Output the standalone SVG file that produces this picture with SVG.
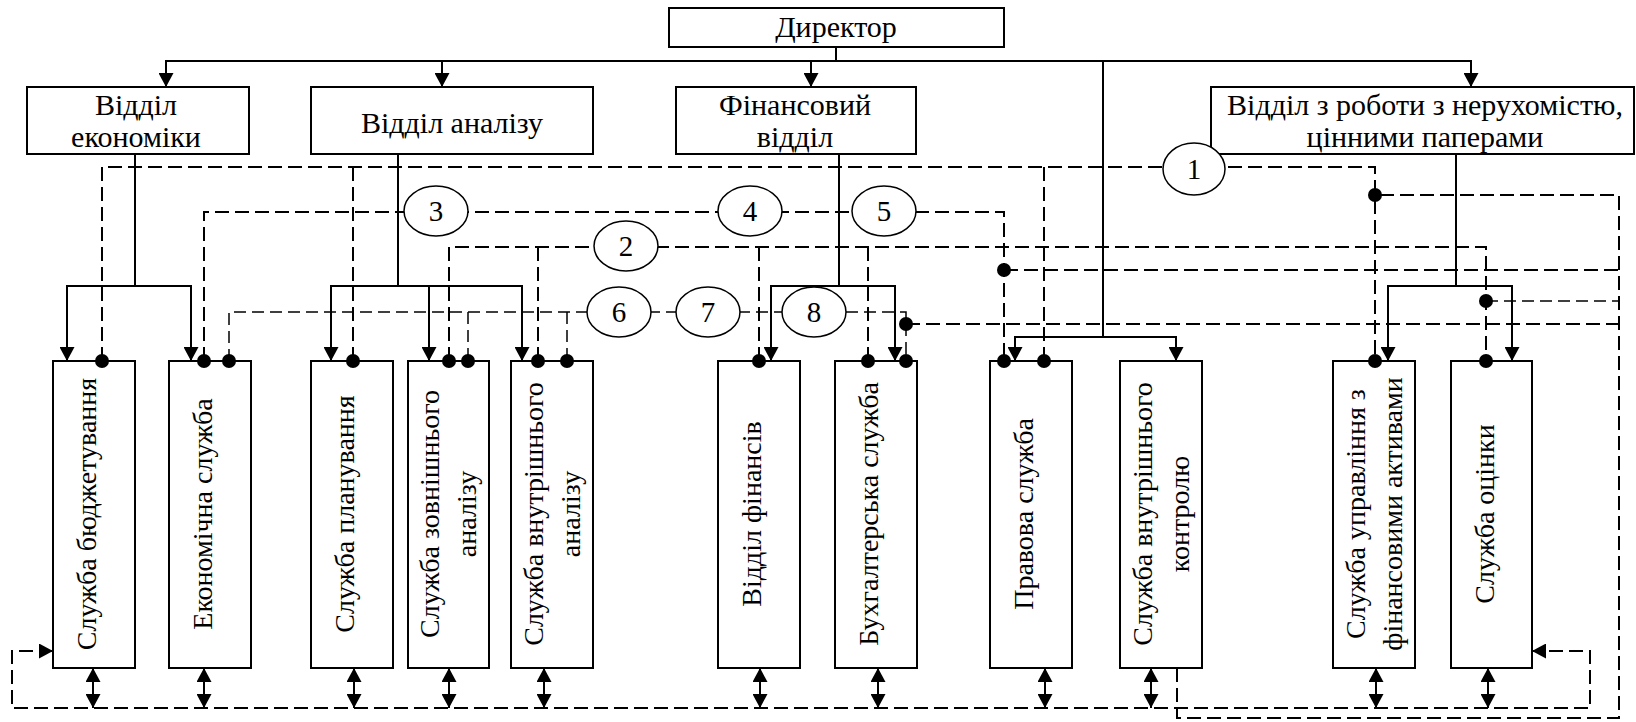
<svg xmlns="http://www.w3.org/2000/svg" width="1636" height="722" viewBox="0 0 1636 722">
<style>
.box{fill:#fff;stroke:#000;stroke-width:2}
.t{font-family:'Liberation Serif','Times New Roman',serif;font-size:30px;fill:#000;text-anchor:middle}
.n{font-family:'Liberation Serif','Times New Roman',serif;font-size:29px;fill:#000;text-anchor:middle}
.v{font-family:'Liberation Serif','Times New Roman',serif;font-size:28px;fill:#000;text-anchor:middle}
.s{fill:none;stroke:#000;stroke-width:2}
.d{fill:none;stroke:#000;stroke-width:2;stroke-dasharray:14 6}
.dt{fill:none;stroke:#000;stroke-width:1.5;stroke-dasharray:12 6}
.dot{fill:#000}
.el{fill:#fff;stroke:#000;stroke-width:1.5}
</style>
<defs>
<marker id="a" markerUnits="userSpaceOnUse" markerWidth="15" markerHeight="15" refX="14" refY="7.5" orient="auto-start-reverse">
<path d="M0,0 L14,7.5 L0,15 z" fill="#000"/>
</marker>
</defs>
<rect width="1636" height="722" fill="#fff"/>
<g id="director"><rect class="box" x="669" y="8" width="335" height="39"/><text class="t" x="836" y="37">Директор</text></g>
<g id="econ-dept"><rect class="box" x="27" y="87" width="222" height="67"/><text class="t" x="136" y="115">Відділ</text><text class="t" x="136" y="147">економіки</text></g>
<g id="analysis-dept"><rect class="box" x="311" y="87" width="282" height="67"/><text class="t" x="452" y="133">Відділ аналізу</text></g>
<g id="fin-dept"><rect class="box" x="676" y="87" width="240" height="67"/><text class="t" x="795" y="115">Фінансовий</text><text class="t" x="795" y="147">відділ</text></g>
<g id="realestate-dept"><rect class="box" x="1211" y="87" width="423" height="67"/><text class="t" x="1425" y="115">Відділ з роботи з нерухомістю,</text><text class="t" x="1425" y="147">цінними паперами</text></g>

<g id="budget"><rect class="box" x="53" y="361" width="82" height="307"/><text class="v" transform="translate(96,514) rotate(-90)">Служба бюджетування</text></g>
<g id="economic"><rect class="box" x="169" y="361" width="82" height="307"/><text class="v" transform="translate(212,514) rotate(-90)">Економічна служба</text></g>
<g id="planning"><rect class="box" x="311" y="361" width="82" height="307"/><text class="v" transform="translate(354,514) rotate(-90)">Служба планування</text></g>
<g id="external"><rect class="box" x="408" y="361" width="81" height="307"/><text class="v" transform="translate(439,514) rotate(-90)">Служба зовнішнього</text><text class="v" transform="translate(476,514) rotate(-90)">аналізу</text></g>
<g id="internal"><rect class="box" x="511" y="361" width="82" height="307"/><text class="v" transform="translate(543,514) rotate(-90)">Служба внутрішнього</text><text class="v" transform="translate(580,514) rotate(-90)">аналізу</text></g>
<g id="finance"><rect class="box" x="718" y="361" width="82" height="307"/><text class="v" transform="translate(761,514) rotate(-90)">Відділ фінансів</text></g>
<g id="accounting"><rect class="box" x="835" y="361" width="82" height="307"/><text class="v" transform="translate(878,514) rotate(-90)">Бухгалтерська служба</text></g>
<g id="legal"><rect class="box" x="990" y="361" width="82" height="307"/><text class="v" transform="translate(1033,514) rotate(-90)">Правова служба</text></g>
<g id="control"><rect class="box" x="1120" y="361" width="82" height="307"/><text class="v" transform="translate(1152,514) rotate(-90)">Служба внутрішнього</text><text class="v" transform="translate(1189,514) rotate(-90)">контролю</text></g>
<g id="assets"><rect class="box" x="1333" y="361" width="82" height="307"/><text class="v" transform="translate(1365,514) rotate(-90)">Служба управління з</text><text class="v" transform="translate(1402,514) rotate(-90)">фінансовими активами</text></g>
<g id="valuation"><rect class="box" x="1451" y="361" width="81" height="307"/><text class="v" transform="translate(1494,514) rotate(-90)">Служба оцінки</text></g>

<g id="connectors">
<path class="s" d="M836,47 V61"/>
<path class="s" d="M166,87 V61 H1471 V87" marker-start="url(#a)" marker-end="url(#a)"/>
<path class="s" d="M442,61 V87" marker-end="url(#a)"/>
<path class="s" d="M811,61 V87" marker-end="url(#a)"/>
<path class="s" d="M1103,61 V337"/>
<path class="s" d="M1015,361 V337 H1176 V361" marker-start="url(#a)" marker-end="url(#a)"/>
<path class="s" d="M135,154 V286"/>
<path class="s" d="M67,361 V286 H191 V361" marker-start="url(#a)" marker-end="url(#a)"/>
<path class="s" d="M398,154 V286"/>
<path class="s" d="M331,361 V286 H522 V361" marker-start="url(#a)" marker-end="url(#a)"/>
<path class="s" d="M429,286 V361" marker-end="url(#a)"/>
<path class="s" d="M839,154 V286"/>
<path class="s" d="M771,361 V286 H895 V361" marker-start="url(#a)" marker-end="url(#a)"/>
<path class="s" d="M1456,154 V286"/>
<path class="s" d="M1388,361 V286 H1512 V361" marker-start="url(#a)" marker-end="url(#a)"/>

<path class="d" d="M102,361 V167 H1375 V361"/>
<path class="d" d="M353,167 V361"/>
<path class="d" d="M1044,167 V361"/>
<path class="d" d="M204,361 V212 H1004 V361"/>
<path class="d" d="M449,361 V247 H1486 V361"/>
<path class="d" d="M538,247 V361"/>
<path class="d" d="M759,247 V361"/>
<path class="d" d="M868,247 V361"/>
<path class="dt" d="M229,361 V312 H906 V361"/>
<path class="dt" d="M468,312 V361"/>
<path class="dt" d="M567,312 V361"/>

<path class="d" d="M1177,668 V718 H1619 V195 H1375"/>
<path class="d" d="M1004,270 H1619"/>
<path class="dt" d="M1486,301 H1619"/>
<path class="d" d="M906,324 H1619"/>

<path class="d" d="M53,651 H12 V708 H1590 V651 H1532" marker-start="url(#a)" marker-end="url(#a)"/>
<path class="s" d="M93,668 V708" marker-start="url(#a)" marker-end="url(#a)"/>
<path class="s" d="M204,668 V708" marker-start="url(#a)" marker-end="url(#a)"/>
<path class="s" d="M354,668 V708" marker-start="url(#a)" marker-end="url(#a)"/>
<path class="s" d="M449,668 V708" marker-start="url(#a)" marker-end="url(#a)"/>
<path class="s" d="M544,668 V708" marker-start="url(#a)" marker-end="url(#a)"/>
<path class="s" d="M760,668 V708" marker-start="url(#a)" marker-end="url(#a)"/>
<path class="s" d="M878,668 V708" marker-start="url(#a)" marker-end="url(#a)"/>
<path class="s" d="M1045,668 V708" marker-start="url(#a)" marker-end="url(#a)"/>
<path class="s" d="M1151,668 V708" marker-start="url(#a)" marker-end="url(#a)"/>
<path class="s" d="M1376,668 V708" marker-start="url(#a)" marker-end="url(#a)"/>
<path class="s" d="M1488,668 V708" marker-start="url(#a)" marker-end="url(#a)"/>

<g class="dot">
<circle cx="102" cy="361" r="7"/><circle cx="204" cy="361" r="7"/><circle cx="229" cy="361" r="7"/>
<circle cx="353" cy="361" r="7"/><circle cx="449" cy="361" r="7"/><circle cx="468" cy="361" r="7"/>
<circle cx="538" cy="361" r="7"/><circle cx="567" cy="361" r="7"/><circle cx="759" cy="361" r="7"/>
<circle cx="868" cy="361" r="7"/><circle cx="906" cy="361" r="7"/><circle cx="1004" cy="361" r="7"/>
<circle cx="1044" cy="361" r="7"/><circle cx="1375" cy="361" r="7"/><circle cx="1486" cy="361" r="7"/>
<circle cx="1375" cy="195" r="7"/><circle cx="1004" cy="270" r="7"/><circle cx="1486" cy="301" r="7"/><circle cx="906" cy="324" r="7"/>
</g>

<g id="labels">
<ellipse class="el" cx="1194" cy="169" rx="31" ry="26"/><text class="n" x="1194" y="179">1</text>
<ellipse class="el" cx="626" cy="246" rx="32" ry="25"/><text class="n" x="626" y="256">2</text>
<ellipse class="el" cx="436" cy="211" rx="32" ry="25"/><text class="n" x="436" y="221">3</text>
<ellipse class="el" cx="750" cy="211" rx="32" ry="25"/><text class="n" x="750" y="221">4</text>
<ellipse class="el" cx="884" cy="211" rx="32" ry="25"/><text class="n" x="884" y="221">5</text>
<ellipse class="el" cx="619" cy="312" rx="32" ry="25"/><text class="n" x="619" y="322">6</text>
<ellipse class="el" cx="708" cy="312" rx="32" ry="25"/><text class="n" x="708" y="322">7</text>
<ellipse class="el" cx="814" cy="312" rx="32" ry="25"/><text class="n" x="814" y="322">8</text>
</g>
</g>
</svg>
